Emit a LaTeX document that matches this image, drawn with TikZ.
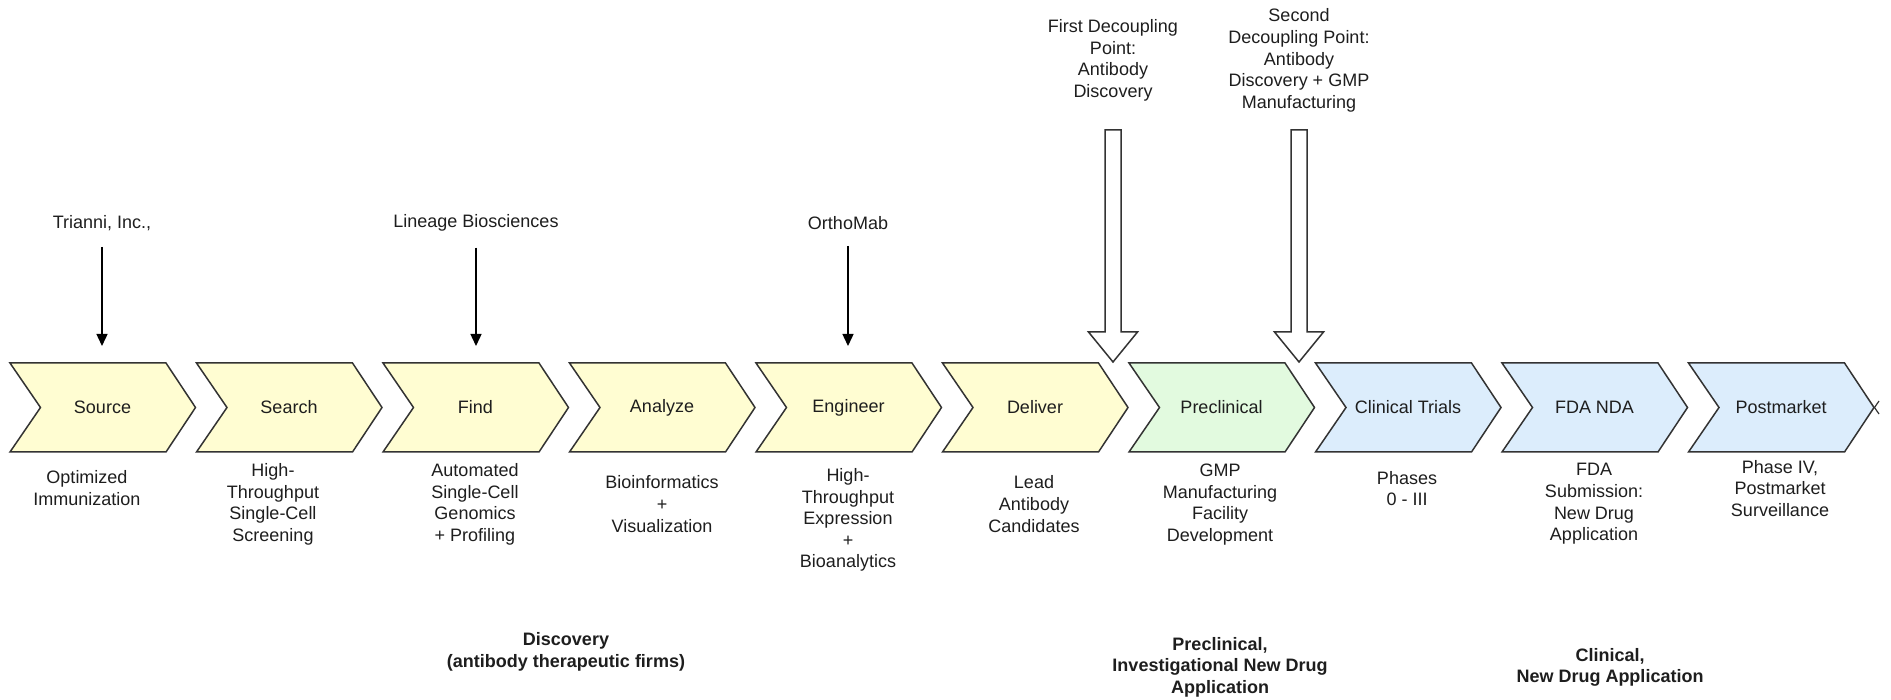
\documentclass[tikz,border=0pt]{standalone}
\usepackage{fontspec}
\setmainfont{Liberation Sans}
\usetikzlibrary{arrows.meta}

\definecolor{discfill}{HTML}{FFFDD2}
\definecolor{prefill}{HTML}{E2FADF}
\definecolor{clinfill}{HTML}{DCEDFC}
\definecolor{edge}{HTML}{333333}
\definecolor{ink}{HTML}{1E1E1E}

\tikzset{
  chevline/.style={draw=edge, line width=1.5pt, line join=miter},
  steptext/.style={font=\fontsize{18}{21.6}\selectfont, text=ink, inner sep=0pt},
  note/.style={font=\fontsize{18}{21.6}\selectfont, text=ink, align=center, inner sep=0pt},
  phase/.style={font=\bfseries\fontsize{18}{21.6}\selectfont, text=ink, align=center, inner sep=0pt},
  feed/.style={draw=black, line width=1.4pt, -{Triangle[width=11pt,length=12pt]}},
  bigarrow/.style={draw=edge, line width=1.5pt, fill=white, line join=miter},
}

% one process step: name, left x, fill colour, label
\newcommand{\procstep}[4]{%
  \filldraw[chevline, fill=#3] (#2,363) -- ++(156,0) -- ++(29.5,44.5) -- ++(-29.5,44.5)
    -- ++(-156,0) -- ++(30.5,-44.5) -- cycle;
  \node[steptext] (#1) at ({#2+92.5},407.5) {#4};}

\begin{document}
\begin{tikzpicture}[x=1pt, y=-1pt]
\useasboundingbox (0,0) rectangle (1891,700);
\fill[white] (0,0) rectangle (1891,700);

% value chain
\procstep{src}{10}{discfill}{Source}
\procstep{sea}{196.5}{discfill}{Search}
\procstep{fnd}{383}{discfill}{Find}
\procstep{ana}{569.5}{discfill}{Analyze}
\procstep{eng}{756}{discfill}{Engineer}
\procstep{dlv}{942.5}{discfill}{Deliver}
\procstep{pre}{1129}{prefill}{Preclinical}
\procstep{cli}{1315.5}{clinfill}{Clinical Trials}
\procstep{fda}{1502}{clinfill}{FDA NDA}
\procstep{pm}{1688.5}{clinfill}{Postmarket}
\draw[chevline, line width=1.2pt] (1879,401) -- (1874.5,407.5) -- (1879,414);

% descriptions under each step
\node[note] (srcD) at (87,488) {Optimized\\Immunization};
\node[note] (seaD) at (273,504.5) {High-\\Throughput\\Single-Cell\\Screening};
\node[note] (fndD) at (475,504.5) {Automated\\Single-Cell\\Genomics\\+ Profiling};
\node[note] (anaD) at (662,504) {Bioinformatics\\+\\Visualization};
\node[note] (engD) at (848,520) {High-\\Throughput\\Expression\\+\\Bioanalytics};
\node[note] (dlvD) at (1034,504) {Lead\\Antibody\\Candidates};
\node[note] (preD) at (1220,504.5) {GMP\\Manufacturing\\Facility\\Development};
\node[note] (cliD) at (1407,488.5) {Phases\\0 - III};
\node[note] (fdaD) at (1594,504) {FDA\\Submission:\\New Drug\\Application};
\node[note] (pmD) at (1780,488.5) {Phase IV,\\Postmarket\\Surveillance};

% phase groupings
\node[phase] (gDisc) at (566,652) {Discovery\\(antibody therapeutic firms)};
\node[phase] (gPre) at (1220,667) {Preclinical,\\Investigational New Drug\\Application};
\node[phase] (gCli) at (1610,667.5) {Clinical,\\New Drug Application};

% firms feeding into steps
\node[note] (tri) at (102,223) {Trianni, Inc.,};
\node[note] (lin) at (476,223) {Lineage Biosciences};
\node[note] (orm) at (848,223) {OrthoMab};
\coordinate (triEnd) at (102,346);
\coordinate (linEnd) at (476,346);
\coordinate (ormEnd) at (848,346);
\draw[feed, shorten <=16pt] (tri.south) -- (triEnd);
\draw[feed, shorten <=16pt] (lin.south) -- (linEnd);
\draw[feed, shorten <=16pt] (orm.south) -- (ormEnd);

% decoupling points
\node[note] (dp1) at (1113,60.5) {First Decoupling\\Point:\\Antibody\\Discovery};
\node[note] (dp2) at (1299,60.5) {Second\\Decoupling Point:\\Antibody\\Discovery + GMP\\Manufacturing};
\coordinate (dp1tip) at (1113,362);
\coordinate (dp2tip) at (1299,362);
\draw[bigarrow] (dp1tip) -- ++(24.5,-30) -- ++(-16.5,0) -- ++(0,-202) -- ++(-16,0)
  -- ++(0,202) -- ++(-16.5,0) -- cycle;
\draw[bigarrow] (dp2tip) -- ++(24.5,-30) -- ++(-16.5,0) -- ++(0,-202) -- ++(-16,0)
  -- ++(0,202) -- ++(-16.5,0) -- cycle;
\end{tikzpicture}
\end{document}
